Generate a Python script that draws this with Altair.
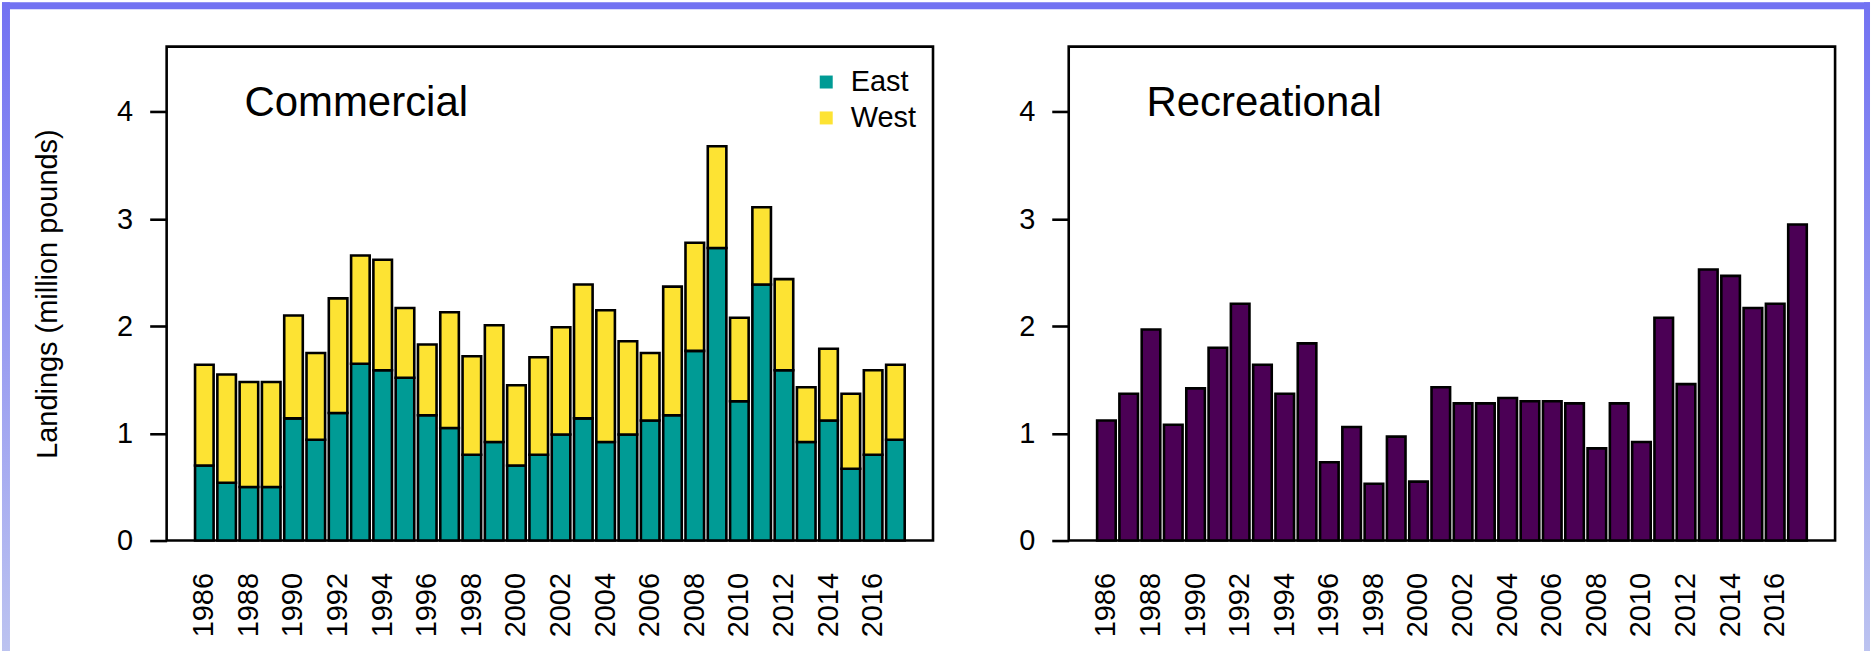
import altair as alt
import pandas as pd

# ---- data -----------------------------------------------------------------
years = list(range(1986, 2018))

# commercial landings by region (million pounds)
east = [0.70, 0.54, 0.50, 0.50, 1.14, 0.94, 1.19, 1.65, 1.59, 1.52,
        1.17, 1.05, 0.80, 0.92, 0.70, 0.80, 0.99, 1.14, 0.92, 0.99,
        1.12, 1.17, 1.77, 2.73, 1.30, 2.39, 1.59, 0.92, 1.12, 0.67,
        0.80, 0.94]
west = [0.94, 1.01, 0.98, 0.98, 0.96, 0.81, 1.07, 1.01, 1.03, 0.65,
        0.66, 1.08, 0.92, 1.09, 0.75, 0.91, 1.00, 1.25, 1.23, 0.87,
        0.63, 1.20, 1.01, 0.95, 0.78, 0.72, 0.85, 0.51, 0.67, 0.70,
        0.79, 0.70]

# recreational landings (million pounds)
recreational = [1.12, 1.37, 1.97, 1.08, 1.42, 1.80, 2.21, 1.64, 1.37, 1.84,
                0.73, 1.06, 0.53, 0.97, 0.55, 1.43, 1.28, 1.28, 1.33, 1.30,
                1.30, 1.28, 0.86, 1.28, 0.92, 2.08, 1.46, 2.53, 2.47, 2.17,
                2.21, 2.95]

year_labels = list(range(1986, 2017, 2))
y_ticks = [0, 1, 2, 3, 4]
regions = ["East", "West"]
region_colors = ["#009B95", "#FDE333"]
rec_color = "#4B0055"

commercial_df = pd.DataFrame({
    "year": years * 2,
    "region": ["East"] * len(years) + ["West"] * len(years),
    "rank": [0] * len(years) + [1] * len(years),
    "landings": east + west,
})
recreational_df = pd.DataFrame({"year": years, "landings": recreational})

# ---- styling ---------------------------------------------------------------
FONT = "Liberation Sans"
W, H = 768, 495
Y_MAX = 4.61
LINE = 2.6
TXT = 29
# band range inside the plot box (bars of width 1, gaps of 0.2, 4% margins)
BAND_RANGE = [26.6, 741.5]


def x_encoding():
    return alt.X(
        "year:O",
        title=None,
        scale=alt.Scale(paddingInner=0.1667, paddingOuter=0.0833, range=BAND_RANGE),
        axis=alt.Axis(values=year_labels, labelAngle=270, labelFontSize=TXT,
                      labelFont=FONT, labelColor="black", labelPadding=32,
                      ticks=False, tickSize=0, domain=False, grid=False),
    )


def y_encoding(title):
    axis = alt.Axis(values=y_ticks, tickSize=17, tickWidth=LINE, tickColor="black",
                    domain=False, grid=False, labelFontSize=TXT, labelFont=FONT,
                    labelColor="black", labelPadding=17, labelAlign="right",
                    labelBaseline="middle", title=title, titleFontSize=TXT,
                    titleFont=FONT, titleFontWeight="normal", titleColor="black",
                    titlePadding=54)
    return alt.Y("landings:Q", stack="zero",
                 scale=alt.Scale(domain=[0, Y_MAX], nice=False), axis=axis)


def panel_title(text):
    return alt.Chart(pd.DataFrame({"label": [text]})).mark_text(
        align="left", baseline="alphabetic", fontSize=42, font=FONT, color="black"
    ).encode(x=alt.value(78), y=alt.value(69.5), text="label:N")


def edge_band(x, x2, y, y2, fill):
    return alt.Chart(pd.DataFrame({"k": [0]})).mark_rect(fill=fill).encode(
        x=alt.value(x), x2=alt.value(x2), y=alt.value(y), y2=alt.value(y2)
    )


fade = alt.LinearGradient(
    gradient="linear",
    stops=[alt.GradientStop(color="#7272F2", offset=0),
           alt.GradientStop(color="#BCC3F0", offset=1)],
    x1=0, x2=0, y1=0, y2=1,
)

# frame around the figure (drawn in the left panel's coordinates)
frame = [
    edge_band(-165, 1707, -44.5, -37.5, "#7272F2"),
    edge_band(-165, -157, -44.5, 606.5, fade),
    edge_band(1701, 1707, -44.5, 606.5, fade),
]

# ---- panels ----------------------------------------------------------------
commercial_bars = alt.Chart(commercial_df).mark_bar(
    stroke="black", strokeWidth=LINE, opacity=1
).encode(
    x=x_encoding(),
    y=y_encoding("Landings (million pounds)"),
    color=alt.Color(
        "region:N",
        scale=alt.Scale(domain=regions, range=region_colors),
        legend=alt.Legend(title=None, orient="none", legendX=646.5, legendY=21,
                          direction="vertical", padding=0, symbolType="square",
                          symbolSize=169, symbolStrokeWidth=0, labelFontSize=TXT,
                          labelFont=FONT, labelColor="black", labelOffset=10,
                          rowPadding=6),
    ),
    order=alt.Order("rank:Q"),
)

left = alt.layer(*frame, commercial_bars, panel_title("Commercial")).properties(
    width=W, height=H
)

recreational_bars = alt.Chart(recreational_df).mark_bar(
    stroke="black", strokeWidth=LINE, color=rec_color, opacity=1
).encode(
    x=x_encoding(),
    y=y_encoding(None),
)

right = alt.layer(recreational_bars, panel_title("Recreational")).properties(
    width=W, height=H
)

chart = alt.hconcat(left, right, spacing=136, bounds="flush").properties(
    padding=0, autosize=alt.AutoSizeParams(type="pad")
).configure(
    background="white", font=FONT
).configure_view(
    stroke="black", strokeWidth=LINE, fill="white"
)

chart.save("out.html", embed_options={"renderer": "svg", "actions": False})
